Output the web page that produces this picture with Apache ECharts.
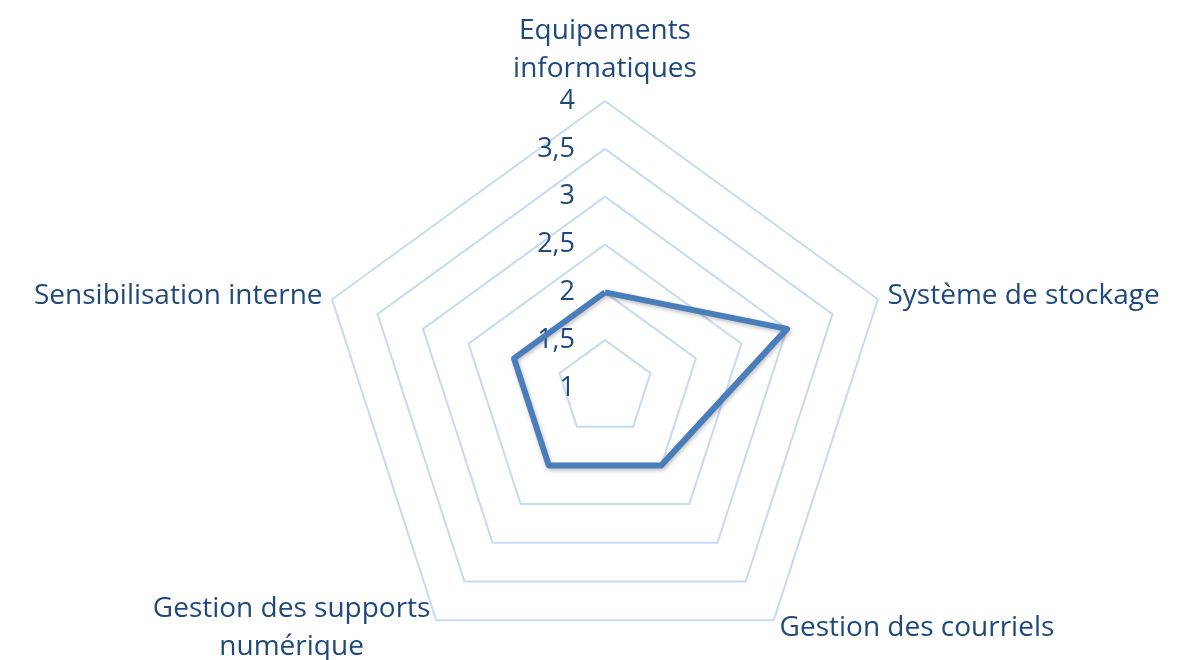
<!DOCTYPE html>
<html>
<head>
<meta charset="utf-8">
<script src="https://cdn.jsdelivr.net/npm/echarts@6/dist/echarts.min.js"></script>
<style>
  html, body { margin: 0; padding: 0; background: #fff; }
  #chart { width: 1177px; height: 660px; }
</style>
</head>
<body>
<div id="chart"></div>
<script>
// axes of the radar, clockwise from the top
var categories = ['Equipements\ninformatiques', 'Système de stockage', 'Gestion des courriels', 'Gestion des supports\nnumérique', 'Sensibilisation interne'];
var scores = [2, 3, 2, 2, 2];
var scaleMin = 1, scaleMax = 4, rings = 6;

// echarts lays indicators out counter-clockwise, so walk the list backwards after the first one
var order = [0, 4, 3, 2, 1];
var indicators = order.map(function (k, i) {
    var ind = {name: categories[k], min: scaleMin, max: scaleMax};
    // only the top axis shows its tick labels
    if (i > 0) ind.axisLabel = {show: false};
    return ind;
});
var values = order.map(function (k) { return scores[k]; });

var txtColor = '#1f497d';
var chart = echarts.init(document.getElementById('chart'));
chart.setOption({
    backgroundColor: '#fff',
    radar: {
        center: [605, 388],
        radius: 287,
        startAngle: 90,
        splitNumber: rings,
        shape: 'polygon',
        indicator: indicators,
        axisName: {
            color: txtColor,
            fontSize: 28,
            fontFamily: 'Open Sans',
            lineHeight: 38,
            formatter: function (name) {
                return name.split('\n').map(function (l) { return '{c|' + l + '}'; }).join('\n');
            },
            rich: {
                c: {align: 'center', color: txtColor, fontSize: 28, fontFamily: 'Open Sans', lineHeight: 38}
            }
        },
        nameGap: 10,
        axisLine: {show: false},
        axisTick: {show: false},
        splitArea: {show: false},
        splitLine: {lineStyle: {color: '#c6daf2', width: 2}},
        axisLabel: {
            show: true,
            color: txtColor,
            fontSize: 27,
            fontFamily: 'Open Sans',
            margin: 30,
            formatter: function (v) { return String(v).replace('.', ','); }
        }
    },
    series: [{
        type: 'radar',
        symbol: 'none',
        data: [{value: values, name: 'Score'}],
        lineStyle: {
            color: '#4a7ebb',
            width: 6,
            shadowColor: 'rgba(0,0,0,0.25)',
            shadowBlur: 4,
            shadowOffsetX: 1,
            shadowOffsetY: 2
        }
    }]
});
</script>
</body>
</html>
